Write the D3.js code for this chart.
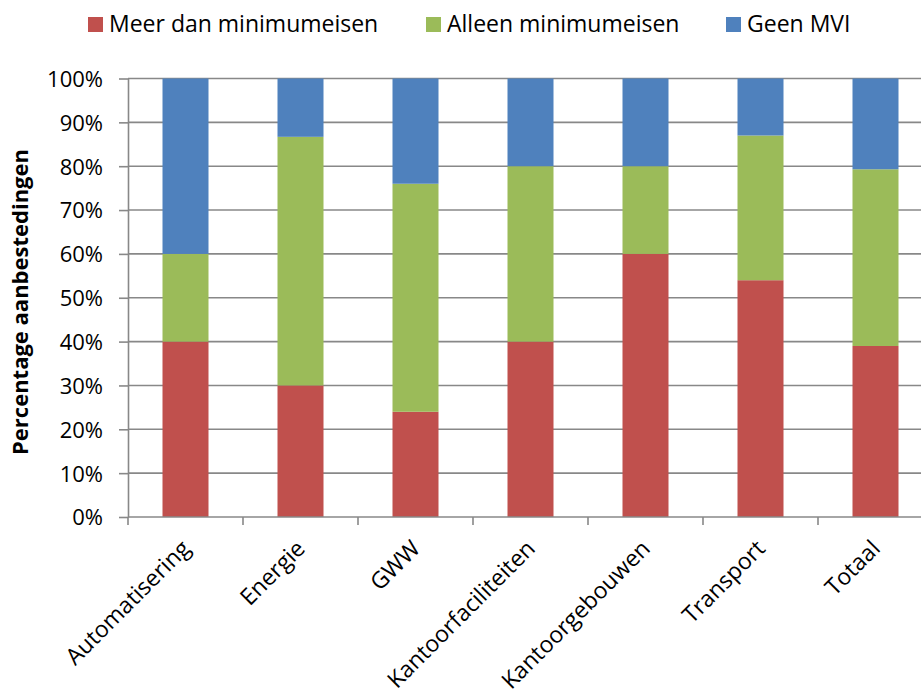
<!DOCTYPE html>
<html><head><meta charset="utf-8">
<script src="https://cdn.jsdelivr.net/npm/d3@7"></script>
<style>body{margin:0;background:#fff}svg{display:block}</style>
</head><body>
<svg id="c" width="921" height="690"></svg>
<script>
const categories = ["Automatisering","Energie","GWW","Kantoorfaciliteiten","Kantoorgebouwen","Transport","Totaal"];
const seriesNames = ["Meer dan minimumeisen","Alleen minimumeisen","Geen MVI"];
const meerDan = [40, 30, 24, 40, 60, 54, 39];
const alleen = [20, 56.7, 52, 40, 20, 33, 40.3];
const geenMVI = [40, 13.3, 24, 20, 20, 13, 20.7];
const yTicks = [0,10,20,30,40,50,60,70,80,90,100];
const colors = ["#C0504D","#9BBB59","#4F81BD"];

const font = "'Open Sans', Lato, sans-serif";
const svg = d3.select("#c");
const left = 128, bandW = 115;
const x = d3.scaleBand().domain(categories).range([left, left + bandW*categories.length]).paddingInner(0.6).paddingOuter(0.3);
const y = d3.scaleLinear().domain([0,100]).range([517, 78.5]);

const rows = categories.map((c,i)=>({cat:c, s0:meerDan[i], s1:alleen[i], s2:geenMVI[i]}));
const stacked = d3.stack().keys(["s0","s1","s2"])(rows);

// gridlines
svg.append("g").selectAll("line").data(yTicks.filter(d=>d>0)).join("line")
  .attr("x1", left).attr("x2", 921).attr("y1", d=>y(d)).attr("y2", d=>y(d))
  .attr("stroke", "#888").attr("stroke-width", 1.6);

// bars
svg.append("g").selectAll("g").data(stacked).join("g").attr("fill",(d,i)=>colors[i])
  .selectAll("rect").data(d=>d).join("rect")
  .attr("x", d=>x(d.data.cat)).attr("width", x.bandwidth())
  .attr("y", d=>y(d[1])).attr("height", d=>y(d[0])-y(d[1]));

// y axis
const yAxis = d3.axisLeft(y).tickValues(yTicks).tickFormat(d=>d+"%").tickSize(9).tickSizeOuter(0);
const gy = svg.append("g").attr("transform",`translate(${left},0)`).call(yAxis);
gy.select(".domain").attr("stroke","#888").attr("stroke-width",1.6);
gy.selectAll(".tick line").attr("stroke","#888").attr("stroke-width",1.6);
gy.selectAll(".tick text").attr("font-family",font).attr("font-size",22).attr("fill","#000").attr("x",-25).attr("dy","0.36em");

// x axis
const xb = d3.scaleLinear().domain([0, categories.length]).range([left, left + bandW*categories.length]);
const gx = svg.append("g").attr("transform","translate(0,517)");
gx.append("line").attr("x1",left).attr("x2",921).attr("stroke","#888").attr("stroke-width",1.6);
gx.selectAll("line.t").data(d3.range(0, categories.length)).join("line").attr("class","t")
  .attr("x1",d=>xb(d)).attr("x2",d=>xb(d)).attr("y1",0).attr("y2",8).attr("stroke","#888").attr("stroke-width",1.6);
gx.selectAll("text").data(categories).join("text")
  .attr("transform", d=>`translate(${x(d)+x.bandwidth()/2+6},${33}) rotate(-45)`)
  .attr("text-anchor","end").attr("font-family",font).attr("font-size",23).attr("fill","#000")
  .text(d=>d);

// y title
svg.append("text").attr("transform","translate(28,302) rotate(-90)").attr("text-anchor","middle")
  .attr("font-family",font).attr("font-size",22).attr("font-weight","bold").attr("fill","#000")
  .text("Percentage aanbestedingen");

// legend
const legX = [88, 426, 726];
const lg = svg.append("g").selectAll("g").data(seriesNames).join("g")
  .attr("transform",(d,i)=>`translate(${legX[i]},0)`);
lg.append("rect").attr("x",0).attr("y",17).attr("width",15).attr("height",15).attr("fill",(d,i)=>colors[i]);
lg.append("text").attr("x",21).attr("y",32).attr("font-family",font).attr("font-size",23).attr("fill","#000").text(d=>d);
</script>
</body></html>
